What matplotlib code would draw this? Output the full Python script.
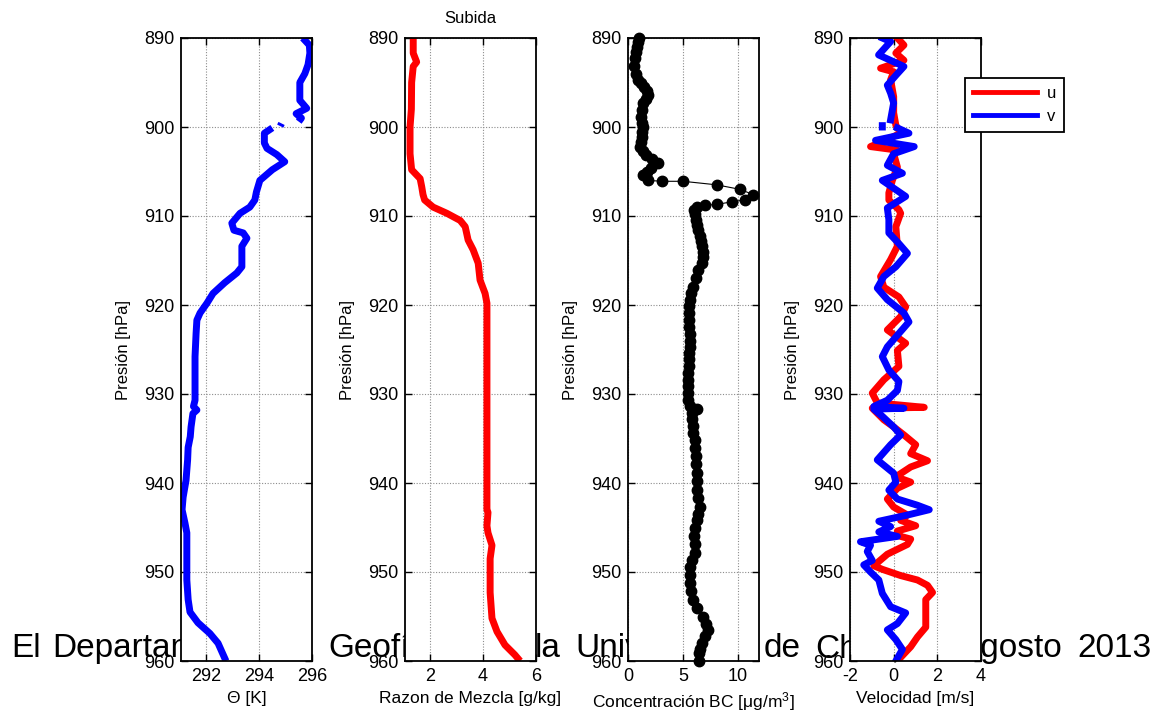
import numpy as np
import matplotlib
matplotlib.use("Agg")
import matplotlib.pyplot as plt

plt.rcParams["font.family"] = ["Liberation Sans", "DejaVu Sans"]
plt.rcParams["mathtext.fontset"] = "custom"
plt.rcParams["mathtext.rm"] = "Liberation Sans"
plt.rcParams["mathtext.it"] = "Liberation Sans:italic"
plt.rcParams["axes.unicode_minus"] = False

nan = np.nan

# Temperatura potencial (hPa, K)
p_theta = [890, 890.8, 891.7, 893, 894, 895, 897, 897.9, 898.5, 899, 899.4, nan,
           899.6, 899.9, nan,
           900.1, 900.7, 901.8, 902.4, 903.1, 903.9, 904.8, 906, 907.3, 908.2, 909,
           909.7, 910.8, 911.6, 911.9, 912.5, 913.4, 915.7, 916.4, 917.5, 918.7,
           919.8, 920.9, 921.7, 923.2, 925.8, 930.7, 931.4, 931.8, 932.2, 933.7,
           934.8, 936, 937.4, 939.7, 941.6, 943, 944.5, 945.6, 947.9, 950.9, 953.1,
           954.5, 955.7, 956.9, 958, 960]
theta = [295.65, 295.9, 295.92, 295.85, 295.73, 295.54, 295.54, 295.8, 295.4, 295.6, 295.5, nan,
         294.85, 294.8, nan,
         294.5, 294.2, 294.2, 294.3, 294.67, 294.97, 294.5, 294.03, 293.9, 293.84, 293.65,
         293.28, 292.97, 293.05, 293.4, 293.54, 293.35, 293.35, 293.16, 292.7, 292.26,
         292.03, 291.77, 291.65, 291.62, 291.58, 291.58, 291.52, 291.65, 291.5, 291.43,
         291.4, 291.32, 291.3, 291.24, 291.13, 291.09, 291.2, 291.27, 291.27, 291.27, 291.32,
         291.39, 291.69, 292.14, 292.45, 292.75]

# Razon de mezcla (hPa, g/kg)
p_mix = [890, 891.7, 892.7, 893.2, 895, 898, 900, 903, 904.8, 905.8, 906.7, 907.6,
         908.2, 909, 909.7, 910.5, 911.2, 912.7, 913.8, 915.3, 917.2, 918.7, 919.8,
         943, 943.3, 944.8, 945.6, 947, 948.5, 952.3, 955.2, 956.7, 958.2, 959.3, 960]
mix = [1.37, 1.37, 1.5, 1.37, 1.31, 1.3, 1.25, 1.25, 1.31, 1.63, 1.69, 1.74,
       1.8, 2.12, 2.64, 3.14, 3.33, 3.44, 3.63, 3.82, 3.89, 4.08, 4.15,
       4.15, 4.19, 4.15, 4.19, 4.34, 4.27, 4.27, 4.34, 4.53, 4.83, 5.2, 5.4]

# Concentracion de carbono negro (hPa, ug/m3)
p_bc = [890, 890.5, 891, 891.6, 892.2, 893.2, 894, 894.7, 895.1, 895.5, 896, 896.4,
        896.9, 897.3, 898.1, 898.9, 899.5, 900, 900.6, 901.1, 901.7, 902.2, 902.7,
        903.1, 903.6, 904.1, 904.6, 905, 905.4, 906, 906.1, 906.1, 906.5, 907, 907.6,
        908.2, 908.4, 908.7, 908.8, 909, 909.3, 909.8, 910.4, 911, 911.6, 912.2,
        912.8, 913.4, 914, 914.6, 915.3, 916.1, 917, 918, 918.7, 919.4, 920.1, 920.9,
        921.7, 922.5, 923.3, 924, 924.7, 925.4, 926.1, 926.8, 927.6, 928.4, 929.1,
        929.9, 930.7, 931.4, 931.7, 932.1, 932.8, 933.6, 934.4, 935.2, 936.1, 937,
        937.9, 938.9, 939.8, 940.8, 941.7, 942.7, 943.5, 944.2, 945.1, 946, 946.9,
        947.9, 948.6, 949.4, 950.3, 951.2, 952.1, 953.1, 954, 955, 955.8, 956.5,
        957.2, 958, 958.6, 959.1, 960]
bc = [1.0, 0.9, 0.83, 0.7, 0.6, 0.55, 0.7, 0.89, 1.2, 1.47, 1.7, 1.83,
      1.6, 1.35, 1.25, 1.19, 1.3, 1.35, 1.3, 1.25, 1.15, 1.1, 1.4,
      1.65, 2.2, 2.7, 2.1, 1.7, 1.35, 1.8, 3.12, 5.0, 8.07, 10.15, 11.4,
      10.6, 9.45, 8.07, 6.97, 6.24, 6.03, 6.1, 6.2, 6.3, 6.4, 6.5,
      6.6, 6.7, 6.8, 6.85, 6.7, 6.4, 6.15, 5.93, 5.75, 5.62, 5.55, 5.53,
      5.55, 5.58, 5.6, 5.62, 5.62, 5.58, 5.55, 5.53, 5.45, 5.41, 5.41,
      5.41, 5.41, 5.6, 6.24, 5.78, 5.85, 5.9, 5.93, 6.09, 6.12, 6.15,
      6.2, 6.24, 6.24, 6.24, 6.4, 6.55, 6.4, 6.24, 6.1, 6.03, 6.05,
      6.05, 5.8, 5.62, 5.6, 5.62, 5.75, 5.93, 6.3, 6.85, 7.1, 7.25,
      7.0, 6.7, 6.55, 6.45, 6.45]

# Viento zonal u (hPa, m/s)
p_u = [890, 890.8, 891.7, 892.5, 893.4, 893.8, 894.7, 896.6, 898.4, 899.8, 900.7,
       901.6, 902.2, 902.6, 903, 904.5, 906, 907.4, 908.2, 909.3, 909.7, 911.2,
       913.4, 914.9, 916.8, 918, 919.1, 920.2, 921.3, 922.8, 924.3, 925.1, 926.9,
       928.4, 929.9, 931, 931.5, 931.6, 932.9, 933.7, 934.6, 935.7, 936.7, 937.5,
       938.2, 939.3, 939.9, 940.6, 941.8, 942.7, 943.6, 944.2, 944.8, 945.4, 945.9,
       946.3, 946.9, 948, 949.3, 949.7, 950.4, 950.9, 951.5, 952.3, 953.1, 956.2,
       957.3, 958.4, 959.6, 960]
u = [0.17, 0.47, 0.1, 0.47, -0.6, 0.0, -0.14, 0.0, 0.0, 0.1, 0.32,
     -0.46, -1.06, 0.17, 0.0, 0.17, -0.06, -0.22, -0.22, 0.24, 0.32, 0.1,
     0.17, -0.14, -0.6, -0.45, 0.24, 0.55, 0.32, -0.29, 0.55, 0.17, 0.24,
     -0.45, -0.98, -0.75, 1.4, -0.98, -0.45, 0.0, 0.47, 1.01, 0.78, 1.55,
     0.78, 0.1, 0.78, 0.17, -0.29, 0.0, 0.63, 0.32, 1.01, 0.17, 0.17,
     0.78, 0.63, -0.29, -0.91, -0.52, 0.32, 1.09, 1.55, 1.78, 1.47, 1.47,
     1.09, 0.78, 0.32, 0.17]

# Viento meridional v (hPa, m/s)
p_v = [890, 890.4, 891.9, 893.2, 894.2, 895.3, 896.2, 897.3, 899.2, nan,
       899.85, 900.0, nan,
       900.1, 900.7, 901.5, 902.2, 903, 904.3, 905.2, 906, 907.8, 909.1, 910.4,
       911.9, 913.1, 914.2, 915.7, 916.8, 918.1, 919.4, 920.9, 921.9, 923.2, 924.7,
       925.8, 927.3, 928.6, 929.6, 930.7, 931.4, 931.6, 931.7, 932.5, 933.7, 934.6,
       935.7, 937.4, 938.9, 939.9, 940.8, 941.8, 942.5, 943, 943.6, 944.3, 944.9,
       945.5, 946, 946.6, 947, 947.7, 948.7, 949.2, 950, 950.9, 952.4, 953.9,
       954.6, 955.8, 956.5, 957.6, 958.7, 960]
v = [-0.52, -0.14, -0.69, 0.47, 0.1, -0.29, -0.14, 0.0, -0.14, nan,
     -0.52, -0.52, nan,
     0.17, 0.7, -0.83, 0.94, 0.0, -0.29, 0.4, -0.52, 0.55, -0.29, -0.22,
     -0.22, 0.24, 0.63, 0.1, -0.45, -0.75, -0.29, 0.47, 0.7, 0.24, -0.29,
     -0.52, -0.22, 0.24, 0.17, -0.29, -0.91, 0.47, -0.91, -0.52, 0.0, 0.32,
     -0.14, -0.75, 0.0, 0.1, -0.22, 0.17, 1.09, 1.63, 0.63, -0.68, -0.14,
     -0.68, 0.17, -1.52, -1.06, -1.21, -0.98, -1.37, -1.06, -0.68, -0.52, -0.14,
     0.55, 0.17, -0.29, 0.1, 0.4, 0.1]

# rotulo de fondo: palabras y su posicion horizontal (px)
credit_words = ["El", "Departamento", "de", "Geofísica", "de", "la",
                "Universidad", "de", "Chile,", "Agosto", "2013"]
credit_x = [11, 52, 276, 328, 482, 535, 575, 764, 815, 959, 1077]

fig = plt.figure(figsize=(11.61, 7.15), dpi=100)

# queda tapado en parte por los ejes
for word, xp in zip(credit_words, credit_x):
    fig.text(xp / 1161, 1 - 657 / 715, word, fontsize=24,
             ha="left", va="baseline", zorder=-1)

left_px = [181, 405, 628, 850]
W, H = 131 / 1161, 623 / 715
B = 1 - 661 / 715
axes = [fig.add_axes([lx / 1161, B, W, H], zorder=1) for lx in left_px]

for ax in axes:
    ax.set_ylim(960, 890)
    ax.set_yticks(np.arange(890, 961, 10))
    ax.grid(True, linestyle=(0, (1, 1.5)), color="0.55", linewidth=0.8)
    ax.tick_params(direction="in", top=True, right=True, length=5, width=1,
                   labelsize=13, pad=5)
    for s in ax.spines.values():
        s.set_linewidth(1.3)
    ax.set_ylabel("Presión [hPa]", fontsize=12, labelpad=9)

ax1, ax2, ax3, ax4 = axes

ax1.plot(theta, p_theta, color="#0000ff", lw=5, solid_capstyle="butt")
ax1.set_xlim(291.05, 296)
ax1.set_xticks([292, 294, 296])
ax1.set_xlabel("Θ [K]", fontsize=12.5)

ax2.plot(mix, p_mix, color="#ff0000", lw=5, solid_capstyle="butt")
ax2.set_xlim(1.06, 6)
ax2.set_xticks([2, 4, 6])
ax2.set_xlabel("Razon de Mezcla [g/kg]", fontsize=12.5)
ax2.set_title("Subida", fontsize=12, pad=11)

ax3.plot(bc, p_bc, color="black", lw=0.8, marker="o", markersize=7.5,
         clip_on=False)
ax3.set_xlim(0, 11.9)
ax3.set_xticks([0, 5, 10])
ax3.set_xlabel("Concentración BC [μg/m$^3$]", fontsize=12.5)

ax4.plot(u, p_u, color="#ff0000", lw=5, label="u")
ax4.plot(v, p_v, color="#0000ff", lw=5, label="v")
ax4.set_xlim(-2, 4)
ax4.set_xticks([-2, 0, 2, 4])
ax4.set_xlabel("Velocidad [m/s]", fontsize=12.5)
leg = ax4.legend(loc="upper left", bbox_to_anchor=(965 / 1161, 1 - 78 / 715),
                 bbox_transform=fig.transFigure, borderaxespad=0, fancybox=False,
                 edgecolor="black", framealpha=1, fontsize=12, handlelength=3.8,
                 handletextpad=0.6, borderpad=0.5, labelspacing=0.45)
leg.get_frame().set_linewidth(1.3)
for line in leg.get_lines():
    line.set_linewidth(3.5)

fig.savefig("out.png", dpi=100)
